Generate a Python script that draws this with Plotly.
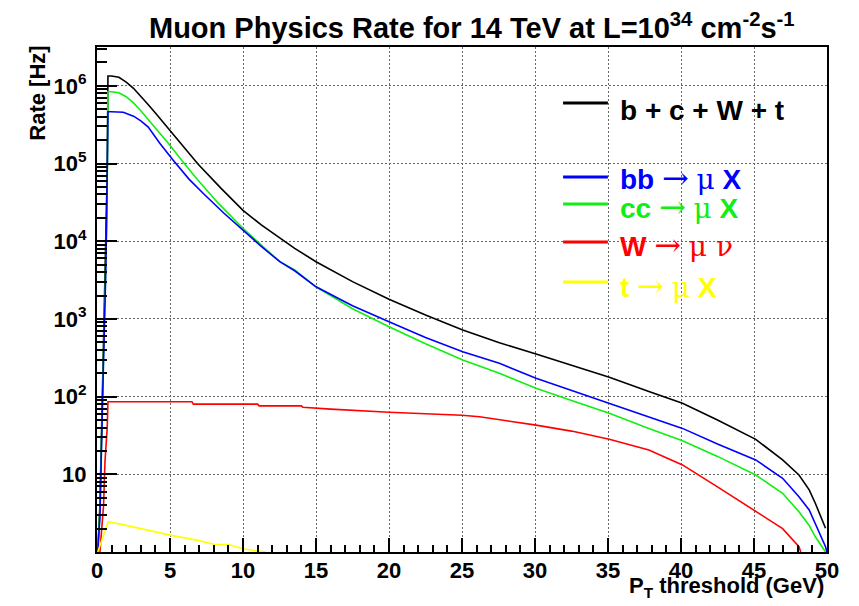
import plotly.graph_objects as go

# ---------------- data ----------------
pt_total = [0.05, 0.2, 0.4, 0.6, 0.7, 0.75, 1.0, 1.5, 2.0, 2.5, 3.0, 3.5, 4.0, 4.88, 5.9, 6.93, 8.5, 10,
            11.25, 12.52, 13.54, 15, 17.5, 20, 22.5, 25.05, 27.56, 30.07, 32.5, 35.09, 37.8, 40.1, 42.5,
            45.12, 46.96, 48.08, 48.78, 49.2, 49.9]
rate_total = [1.0, 4.0, 200, 7900, 79000, 1.337e6, 1.337e6, 1.29e6, 1.12e6, 9.3e5, 7.4e5, 5.75e5, 4.47e5,
              2.84e5, 1.66e5, 9.8e4, 4.79e4, 2.5e4, 1.62e4, 1.09e4, 8100, 5450, 3020, 1790, 1120, 720, 494,
              353, 251, 177, 116, 82, 50, 28.2, 15.3, 9.8, 6.3, 4.24, 2.02]

pt_bb = [0.05, 0.2, 0.4, 0.6, 0.68, 0.75, 1.0, 1.8, 2.5, 3.0, 3.51, 4.3, 5.22, 6.3, 7.39, 8.7, 10, 11.25,
         12.52, 13.54, 15, 17.5, 20, 22.5, 25.05, 27.56, 30.07, 32.5, 35.09, 37.8, 40.1, 42.5, 45.12, 46.96,
         48.08, 48.78, 49.2, 49.9, 50]
rate_bb = [1.0, 2.8, 126, 4000, 4.0e4, 4.65e5, 4.65e5, 4.57e5, 4.07e5, 3.55e5, 2.95e5, 1.82e5, 1.1e5,
           6.3e4, 3.94e4, 2.29e4, 1.39e4, 8600, 5450, 4170, 2590, 1480, 920, 575, 378, 269, 172, 120, 82,
           56, 39, 24.5, 15.3, 8.9, 5.15, 3.47, 2.34, 1.17, 1.0]

pt_cc = [0.05, 0.2, 0.4, 0.6, 0.68, 0.72, 0.75, 1.0, 1.5, 2.0, 2.5, 3.0, 3.5, 4.0, 4.88, 5.8, 6.7, 8.3, 10,
         11.25, 12.52, 13.54, 15, 17.5, 20, 22.5, 25.05, 27.56, 30.07, 32.5, 35.09, 37.8, 40.1, 42.5, 45.12,
         46.96, 48.08, 48.78, 49.2, 49.9]
rate_cc = [1.0, 3.2, 158, 4000, 2.0e4, 1.58e5, 8.4e5, 8.4e5, 8.13e5, 7.24e5, 6.03e5, 4.79e5, 3.72e5, 2.88e5,
           1.82e5, 1.1e5, 6.8e4, 3.09e4, 1.47e4, 8900, 5450, 4270, 2590, 1350, 794, 479, 296, 200, 128, 89,
           61, 39, 27.1, 17, 9.8, 5.7, 3.3, 2.2, 1.57, 1.0]

pt_w = [0.2, 0.45, 0.55, 0.7, 0.75, 6.5, 6.6, 11.0, 11.1, 14.0, 14.1, 16, 20, 25, 26.2, 30.07, 32.5,
        35.09, 37.8, 40.1, 42.5, 45.12, 46.96, 48.08, 48.2]
rate_w = [1.0, 4.0, 15, 40, 86, 86, 80, 80, 76, 76, 73, 69, 63, 57.5, 55, 43, 36, 28.2, 20.6, 13.2,
          6.9, 3.3, 2.0, 1.17, 1.0]

pt_t = [0.05, 0.77, 2, 3, 5, 7, 8, 9, 10, 11, 11.6]
rate_t = [1.0, 2.45, 2.2, 2.0, 1.65, 1.4, 1.26, 1.25, 1.1, 1.03, 1.0]

y_tickvals = [10, 100, 1000, 1e4, 1e5, 1e6]
y_ticktext = ["10", "10<sup>2</sup>", "10<sup>3</sup>", "10<sup>4</sup>", "10<sup>5</sup>", "10<sup>6</sup>"]
y_minorvals = [m * 10 ** k for k in range(0, 7) for m in range(2, 10) if m * 10 ** k < 3.2e6]
x_tickvals = [0, 5, 10, 15, 20, 25, 30, 35, 40, 45, 50]

ARROW = "<span style='font-family:DejaVu Serif;font-weight:normal;font-size:32px'>→</span>"
SYM = "<span style='font-family:DejaVu Serif;font-weight:normal'>{}</span>"
legend_labels = [
    ("<b>b + c + W + t</b>", "#000000"),
    ("<b>bb</b> " + ARROW + " " + SYM.format("μ") + " <b>X</b>", "#0000ff"),
    ("<b>cc</b> " + ARROW + " " + SYM.format("μ") + " <b>X</b>", "#11ee11"),
    ("<b>W</b> " + ARROW + " " + SYM.format("μ ν"), "#ff0000"),
    ("<b>t</b> " + ARROW + " " + SYM.format("μ") + " <b>X</b>", "#ffff00"),
]

FONT = "Liberation Sans, Arial, Helvetica, sans-serif"

fig = go.Figure()
series = [
    (pt_total, rate_total, "#000000"),
    (pt_cc, rate_cc, "#11ee11"),
    (pt_bb, rate_bb, "#0000ff"),
    (pt_w, rate_w, "#ff0000"),
    (pt_t, rate_t, "#ffff00"),
]
for xs, ys, col in series:
    fig.add_trace(go.Scatter(x=xs, y=ys, mode="lines", line=dict(color=col, width=1.6),
                             showlegend=False, hoverinfo="skip"))

# page layout (the page body adds an 8 px margin around the figure)
OFF = 8
PAGE_W, PAGE_H = 859, 606
PL, PR, PT, PB = 97, 830, 47, 552          # plot-area edges in page pixels
W, H = PAGE_W - 2 * OFF, PAGE_H - 2 * OFF
pw, ph = PR - PL, PB - PT


def px(x):
    return (x - PL) / pw


def py(y):
    return (PB - y) / ph


fig.update_layout(
    width=W, height=H,
    margin=dict(l=PL - OFF, r=W - (PR - OFF), t=PT - OFF, b=H - (PB - OFF)),
    paper_bgcolor="white", plot_bgcolor="white",
    font=dict(family=FONT, color="black"),
    xaxis=dict(
        range=[0, 50], tickvals=x_tickvals, ticks="inside", ticklen=14, tickwidth=2,
        tickcolor="black", showline=True, linewidth=2, linecolor="black", mirror=True,
        showgrid=True, gridcolor="#666666", griddash="2px,2px", gridwidth=1,
        zeroline=False, tickfont=dict(size=22, family=FONT, weight="bold"),
        ticklabelstandoff=-2,
        minor=dict(dtick=1, ticks="inside", ticklen=7, tickwidth=2, tickcolor="black", showgrid=False),
    ),
    yaxis=dict(
        type="log", range=[0, 6.5], tickvals=y_tickvals, ticktext=y_ticktext,
        ticks="inside", ticklen=20, tickwidth=2, tickcolor="black",
        showline=True, linewidth=2, linecolor="black", mirror=True,
        showgrid=True, gridcolor="#666666", griddash="2px,2px", gridwidth=1,
        zeroline=False, tickfont=dict(size=22, family=FONT, weight="bold"),
        ticklabelstandoff=4,
        minor=dict(tickvals=y_minorvals, ticks="inside", ticklen=10, tickwidth=2,
                   tickcolor="black", showgrid=False),
    ),
)

annotations = [
    dict(text="Muon Physics Rate for 14 TeV at L=10<sup>34</sup> cm<sup>-2</sup>s<sup>-1</sup>",
         x=px(474), y=py(26), xref="paper", yref="paper", xanchor="center", yanchor="middle",
         showarrow=False, font=dict(size=29, family=FONT, weight="bold", color="black")),
    dict(text="Rate [Hz]", textangle=-90, x=px(37), y=py(44), xref="paper", yref="paper",
         xanchor="center", yanchor="top", showarrow=False,
         font=dict(size=22, family=FONT, weight="bold", color="black")),
    dict(text="P<sub>T</sub> threshold (GeV)", x=px(829), y=py(587), xref="paper", yref="paper",
         xanchor="right", yanchor="middle", showarrow=False,
         font=dict(size=22, family=FONT, weight="bold", color="black")),
]

line_y = [103, 177, 204, 242, 282]
text_y = [110, 178, 207, 245, 286]
shapes = []
for (lab, col), ly, ty in zip(legend_labels, line_y, text_y):
    shapes.append(dict(type="line", xref="paper", yref="paper", x0=px(565), x1=px(610),
                       y0=py(ly), y1=py(ly), line=dict(color=col, width=3)))
    annotations.append(dict(text=lab, x=px(620), y=py(ty), xref="paper", yref="paper",
                            xanchor="left", yanchor="middle", showarrow=False,
                            font=dict(size=28, family=FONT, color=col)))

fig.update_layout(annotations=annotations, shapes=shapes)
fig.write_html("out.html")
